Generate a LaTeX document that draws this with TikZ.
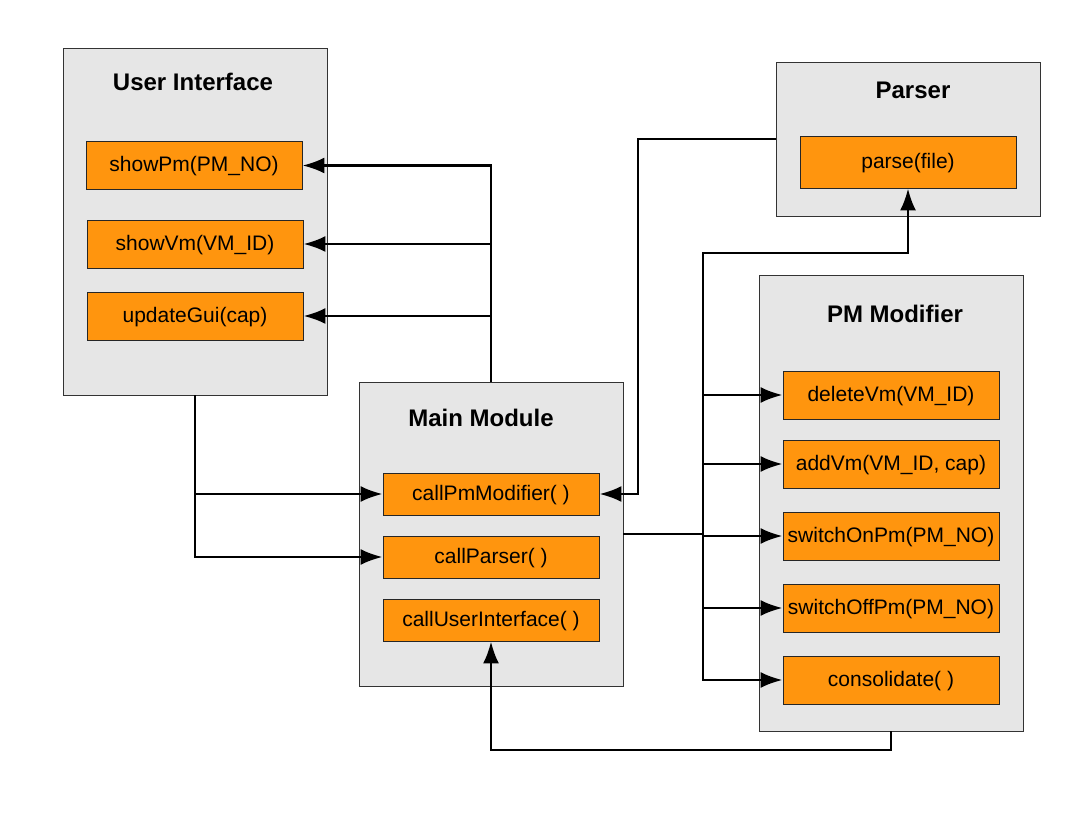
\documentclass[tikz,border=0pt]{standalone}
\usepackage{fontspec}
\setmainfont{Liberation Sans}
\usepackage{tikz}
\usepackage{xcolor}
\usetikzlibrary{arrows.meta}
\definecolor{module-gray}{HTML}{E6E6E6}
\definecolor{method-orange}{HTML}{FF950E}
\tikzset{
    module-box/.style = {draw=black!80, fill=module-gray, thin, rectangle, minimum width=132pt, inner sep=0pt},
    module-title/.style = {font=\fontsize{12}{14}\selectfont\bfseries},
    method-box/.style = {draw=black!85, fill=method-orange, thin, rectangle, minimum width=108pt, minimum height=24pt, inner sep=0pt, text height=8pt, text depth=1.5pt, font=\fontsize{10.5}{12}\selectfont},
    call-line/.style = {line width=1.4pt, -{Latex[length=11pt, width=8pt]}},
}

\begin{document}
\begin{tikzpicture}[x=0.5pt, y=-0.5pt]
\useasboundingbox (0,0) rectangle (1087,828);

% modules
\node [module-box, minimum height=173.5pt] (ui) at (195,221.5) {};
\node [module-title] at (193,82) {User Interface};
\node [method-box] (showPm) at (194,165.5) {showPm(PM\_NO)};
\node [method-box] (showVm) at (195,244) {showVm(VM\_ID)};
\node [method-box] (updateGui) at (195,316) {updateGui(cap)};

\node [module-box, minimum height=77pt] (parser) at (908,139) {};
\node [module-title] at (913,90) {Parser};
\node [method-box, minimum height=26pt] (parse) at (908,162) {parse(file)};

\node [module-box, minimum height=228pt] (pm) at (891,503) {};
\node [module-title] at (895,314) {PM Modifier};
\node [method-box] (deleteVm) at (891,395) {deleteVm(VM\_ID)};
\node [method-box] (addVm) at (891,464) {addVm(VM\_ID, cap)};
\node [method-box] (switchOnPm) at (891,536) {switchOnPm(PM\_NO)};
\node [method-box] (switchOffPm) at (891,608) {switchOffPm(PM\_NO)};
\node [method-box] (consolidate) at (891,680) {consolidate( )};

\node [module-box, minimum height=152pt] (main) at (491,534) {};
\node [module-title] at (481,418) {Main Module};
\node [method-box, minimum height=21pt] (callPm) at (491,494) {callPmModifier( )};
\node [method-box, minimum height=21pt] (callParser) at (491,557) {callParser( )};
\node [method-box, minimum height=21pt] (callUI) at (491,620) {callUserInterface( )};

% bend points
\coordinate (pjoint) at (638,139);
\coordinate (bus) at (703,534);
\coordinate (bustop) at (703,253);
\coordinate (loop) at (891,750);

% main module -> user interface
\draw [call-line] (main.north) |- (showPm.east);
\draw [call-line] (main.north) |- (showVm.east);
\draw [call-line] (main.north) |- (updateGui.east);

% user interface -> main module
\draw [call-line] (ui.south) |- (callPm.west);
\draw [call-line] (ui.south) |- (callParser.west);

% parser -> main module
\draw [call-line] (parser.west) -- (pjoint) |- (callPm.east);

% main module -> parser, pm modifier
\draw [line width=1.4pt] (main.east) -- (bus);
\draw [call-line] (bus) -- (bustop) -| (parse.south);
\draw [call-line] (bus) |- (deleteVm.west);
\draw [call-line] (bus) |- (addVm.west);
\draw [call-line] (bus) |- (switchOnPm.west);
\draw [call-line] (bus) |- (switchOffPm.west);
\draw [call-line] (bus) |- (consolidate.west);

% pm modifier -> main module
\draw [call-line] (pm.south) -- (loop) -| (callUI.south);
\end{tikzpicture}
\end{document}
